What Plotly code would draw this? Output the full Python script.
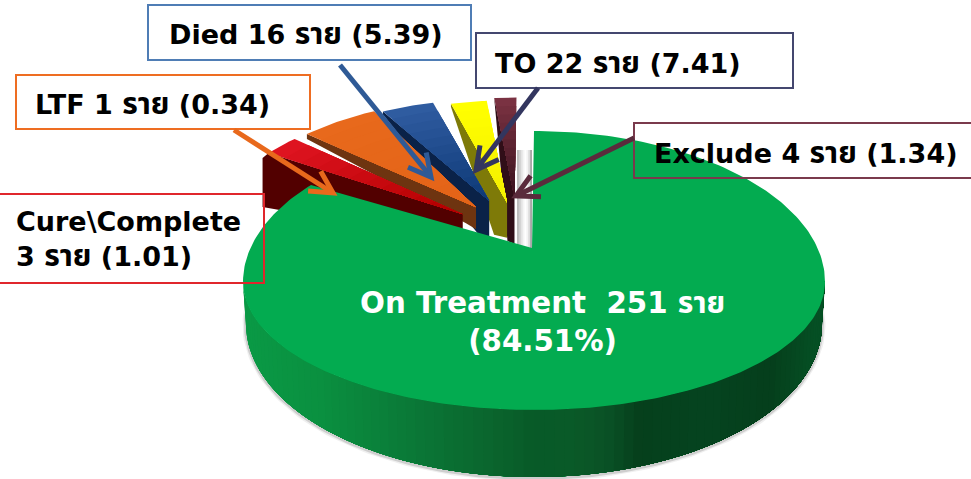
import numpy as np
import plotly.graph_objects as go

# ---- data (drawn slice sizes, clockwise from 12 o'clock)
slice_names = ["On Treatment", "Cure\\Complete", "LTF", "Died", "TO", "Exclude"]
drawn_values = [251, 6.5, 14, 9.5, 6.5, 4.0]
reported_cases = [251, 3, 1, 16, 22, 4]
reported_share = ["84.51%", "1.01", "0.34", "5.39", "7.41", "1.34"]

# ---- styling: the slab is seen in perspective, so back and front half-ellipses differ
CX, CY, RX = 534, 282, 291
RY_BACK, RY_FRONT = 151, 128
BOT_CY, BOT_RX, BOT_RY = 324, 288, 153
AX, AY = 532, 248
EXPLODE_RY = 139
explode = [0, .35, .35, .36, .33, .36]
xnudge = [0, 4, 0, -9, -10, -13]
rscale = [1, .92, .92, .89, .89, .89]
outer_shift = [None, (9, -6), (8, -4), (0, -1), (0, -2), (0, 0)]
top_colors = [None, ("#de1420", "#b20000"), ("#e8691c", "#e46418"), ("#2f5ca0", "#0f3a78"),
              ("#ffff00", "#f4f000"), ("#7a3242", "#3c1420")]
face_colors = [None, "#520000", "#6e3410", "#0a2248", "#7e7a08", "#300e18"]
# knee offset from the apex, knee depth, apex depth, outer-end depth
face_shape = [None, ((0, 0), 0, 28, 54), ((-10, 7), 9, 22, 5), ((-12, 9), 23, 39, 3),
              ((-13, 2), 30, 35, 3), ((-7, 8), 35, 46, 2)]
side_x = [243, 318, 402, 500, 530, 568, 602, 635, 702, 768, 812, 825]
side_c = [(10, 154, 70), (10, 144, 64), (11, 122, 56), (10, 98, 44), (8, 90, 40), (10, 90, 40),
          (10, 82, 38), (6, 64, 28), (5, 68, 32), (6, 63, 28), (5, 79, 36), (5, 79, 36)]
cut_face = ["#bdbdbd", "#cfcfcf", "#e4e4e4", "#f5f5f5", "#ffffff", "#f4f4f4", "#dcdcdc", "#a8a8a8"]

fig = go.Figure()


def poly(x, y, color, lw=0):
    fig.add_trace(go.Scatter(x=x, y=y, mode="lines", fill="toself", fillcolor=color,
                             line=dict(color=color, width=lw), hoverinfo="skip", showlegend=False))


def back(theta, s=1.0, dx=0.0, dy=0.0):
    return CX + s * RX * np.sin(theta) + dx, CY - s * RY_BACK * np.cos(theta) + dy


def rim(theta):
    c = np.cos(theta)
    return CX + RX * np.sin(theta), CY - np.where(c > 0, RY_BACK, RY_FRONT) * c


def bottom(theta, dy=0.0):
    return CX + BOT_RX * np.sin(theta), BOT_CY - BOT_RY * np.cos(theta) + dy


def mix(a, b, t):
    a = [int(a[i:i + 2], 16) for i in (1, 3, 5)]
    b = [int(b[i:i + 2], 16) for i in (1, 3, 5)]
    return "rgb(%d,%d,%d)" % tuple(a[i] + (b[i] - a[i]) * t for i in range(3))


fracs = np.cumsum([0] + drawn_values) / sum(drawn_values) * 2 * np.pi

# soft shadow under the slab
th = np.linspace(np.pi / 2 - .12, 3 * np.pi / 2 + .12, 160)
for w, c in ((7, "rgba(120,120,120,.12)"), (4, "rgba(90,90,90,.22)")):
    x, y = bottom(th, 1)
    fig.add_trace(go.Scatter(x=x, y=y, mode="lines", line=dict(color=c, width=w),
                             hoverinfo="skip", showlegend=False))

# pale cut face behind the apex of the main slice
for k, c in enumerate(cut_face):
    poly([AX - 15 + k * 15 / 8, AX, AX, AX - 15 + k * 15 / 8], [AY - 98, AY - 98, AY, AY], c)

# exploded slices, right to left: each top face overlaps its right neighbour's dark wall
for i in range(len(drawn_values) - 1, 0, -1):
    t0, t1 = fracs[i], fracs[i + 1]
    mid = (t0 + t1) / 2
    ex = explode[i] * RX * np.sin(mid) + xnudge[i]
    ey = -explode[i] * EXPLODE_RY * np.cos(mid)
    ax, ay = AX + ex, AY + ey
    arc = np.linspace(t0, t1, 16)
    ox, oy = back(arc, rscale[i], ex + outer_shift[i][0], ey + outer_shift[i][1])
    (kx, ky), d_knee, d_apex, d_out = face_shape[i]
    if i == 1:  # the outermost slice shows a deep dark end wall
        poly([ax, ax, ox[0] - 6, ox[0] - 6, ox[0]],
             [ay, ay + d_apex, oy[0] + d_out, oy[0] + 5, oy[0]], face_colors[i])
    else:
        poly([ax, ax, ax + kx, ox[0], ox[0]],
             [ay, ay + d_apex, ay + ky + d_knee, oy[0] + d_out, oy[0]], face_colors[i])
    for k in range(12):
        a = 1 - k / 12
        poly(np.r_[ax, ax + (ox - ax) * a], np.r_[ay, ay + (oy - ay) * a],
             mix(top_colors[i][0], top_colors[i][1], k / 11))

# slab side: painted left to right, each band covering the rest of the arc
edges = np.linspace(3 * np.pi / 2 + .01, np.pi / 2 - .01, 91)
for a in edges[:-1]:
    seg = np.linspace(a, edges[-1], 60)
    x, y = rim(seg)
    xb, yb = bottom(seg)
    c = [np.interp(x[0], side_x, [s[j] for s in side_c]) for j in range(3)]
    poly(np.r_[x, xb[::-1]], np.r_[y, yb[::-1]], "rgb(%d,%d,%d)" % tuple(c))

# main face
arc = np.linspace(0, fracs[1], 300)
ox, oy = rim(arc)
poly(np.r_[AX, ox, AX], np.r_[AY, oy, AY], "#03ab50")

# boxes, label texts, arrows
boxes = [(-2, 194, 264, 283, "#e0262c"), (16, 75, 310, 129, "#ee6d22"), (148, 5, 471, 60, "#4f7db5"),
         (476, 33, 793, 88, "#44476f"), (634, 123, 975, 178, "#7a3a4c")]
for x0, y0, x1, y1, c in boxes:
    fig.add_shape(type="rect", x0=x0, y0=y0, x1=x1, y1=y1, line=dict(color=c, width=2), layer="above")

arrows = [(234, 130, 333, 193, "#e8691c"), (340, 65, 431, 177, "#2f5a96"),
          (538, 88, 476, 170, "#33365f"), (634, 138, 516, 196, "#5a2b3c")]
BARB, SPREAD = 25, np.radians(28)
for x0, y0, x1, y1, c in arrows:
    ang = np.arctan2(y0 - y1, x0 - x1)
    fig.add_shape(type="line", x0=x0, y0=y0, x1=x1, y1=y1, line=dict(color=c, width=5), layer="above")
    b1 = (x1 + BARB * np.cos(ang + SPREAD), y1 + BARB * np.sin(ang + SPREAD))
    b2 = (x1 + BARB * np.cos(ang - SPREAD), y1 + BARB * np.sin(ang - SPREAD))
    fig.add_shape(type="path", path="M %.1f %.1f L %.1f %.1f L %.1f %.1f" % (*b1, x1, y1, *b2),
                  line=dict(color=c, width=5), layer="above")

FONT = "DejaVu Sans, Noto Sans Thai, Noto Sans, sans-serif"
THAI = '<span style="font-size:30px">ราย</span>'
texts = [
    (14, 239, "Cure\\Complete<br>3 %s (1.01)" % THAI),
    (33, 103, "LTF 1 %s (0.34)" % THAI),
    (167, 33, "Died 16 %s (5.39)" % THAI),
    (493, 62, "TO 22 %s (7.41)" % THAI),
    (652, 152, "Exclude 4 %s (1.34)" % THAI),
]
for x, y, t in texts:
    fig.add_annotation(x=x, y=y, text="<b>%s</b>" % t, showarrow=False, xanchor="left", yanchor="middle",
                       align="left", font=dict(family=FONT, size=27, color="black"))
fig.add_annotation(x=542, y=321, text="<b>On Treatment  251 %s<br>(84.51%%)</b>" % THAI, showarrow=False,
                   xanchor="center", yanchor="middle", align="center",
                   font=dict(family=FONT, size=29.3, color="white"))

fig.update_layout(width=971, height=479, margin=dict(l=0, r=0, t=0, b=0),
                  paper_bgcolor="white", plot_bgcolor="white", showlegend=False,
                  xaxis=dict(range=[0, 971], visible=False, fixedrange=True),
                  yaxis=dict(range=[479, 0], visible=False, fixedrange=True))
fig.write_html("out.html", config=dict(displayModeBar=False),
               post_script="document.body.style.margin='0';document.body.style.overflow='hidden';")
